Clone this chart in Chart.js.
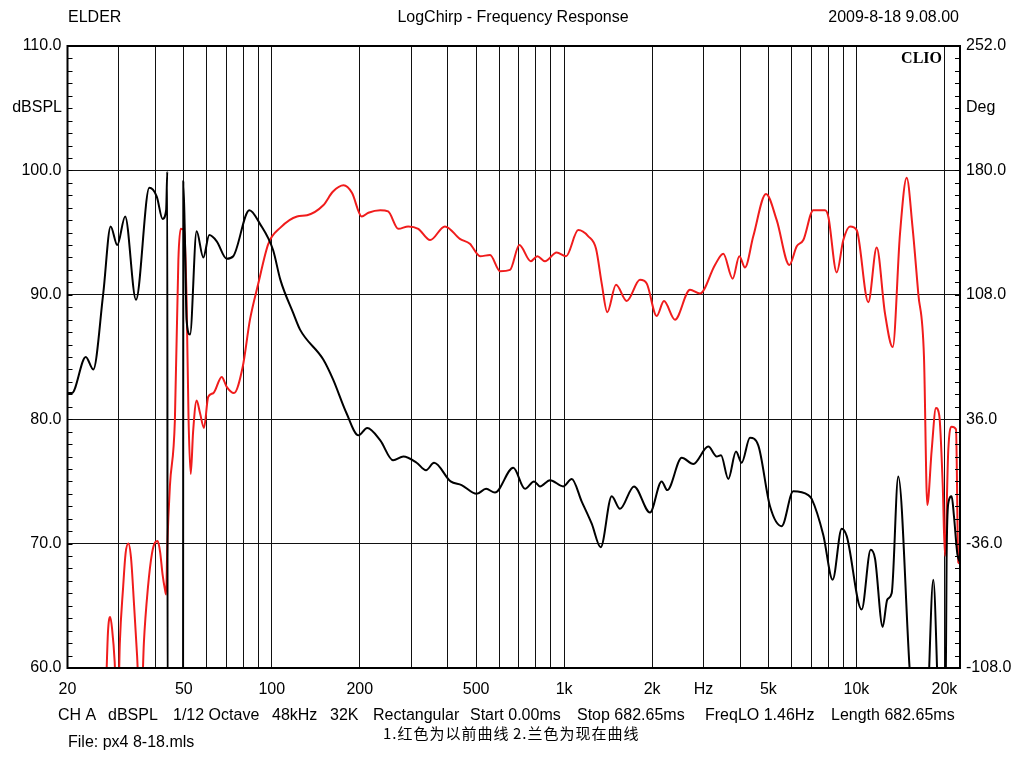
<!DOCTYPE html>
<html>
<head>
<meta charset="utf-8">
<script src="https://cdn.jsdelivr.net/npm/chart.js@4.4.1/dist/chart.umd.min.js"></script>
<style>
  html, body { margin: 0; padding: 0; background: #fff; }
</style>
</head>
<body>
<canvas id="chart" width="1013" height="760"></canvas>
<script>
// black = current curve, red = previous curve (both dBSPL, left axis)
const blackFreq = [20, 20.7, 23.1, 24.5, 26.5, 28.1, 29.6, 31.5, 34.3, 38.1, 40.4, 42.3, 43.5, 43.9, 44.0,
  49.7, 49.8, 50.5, 51.1, 52.5, 55.3, 58.3, 61.1, 64.8, 70.1, 73.8, 83.8, 91.1, 101, 107, 118.5, 124.9,
  150, 162, 180, 198, 212, 235, 260, 282, 313, 337, 359, 409, 446, 502, 541, 580, 670, 735, 789, 827,
  895, 994, 1062, 1148, 1243, 1334, 1455, 1553, 1734, 1967, 2156, 2254, 2526, 2768, 3114, 3327, 3442,
  3646, 3873, 4050, 4324, 4616, 5063, 5551, 6081, 6844, 7031, 7704, 8297, 8907, 9266, 10424, 11192,
  11578, 12300, 12754, 13204, 13906, 15252, 15864, 17298, 18324, 19322, 20157, 20349, 20608, 21178,
  21568, 22140, 22617];
const blackDb = [82.1, 82.1, 85.0, 84.0, 90.1, 95.5, 94.0, 96.3, 89.6, 98.6, 97.9, 96.1, 96.8, 99.9, 55,
  55, 99.1, 94, 88, 86.8, 95.1, 93.0, 94.8, 94.3, 92.9, 93.1, 96.8, 95.7, 93.6, 91.2, 88.5, 87.2,
  84.8, 83.2, 80.5, 78.7, 79.3, 78.3, 76.7, 77.0, 76.5, 75.9, 76.5, 75.0, 74.7, 74.0, 74.4, 74.1, 76.1, 74.4, 75.0, 74.6,
  75.1, 74.6, 75.2, 73.4, 71.6, 69.7, 73.8, 72.8, 74.6, 72.5, 75.0, 74.3, 76.9, 76.4, 77.8, 77.0, 77.1,
  75.2, 77.4, 76.5, 78.5, 77.9, 73.0, 71.4, 74.2, 73.9, 73.6, 70.7, 67.1, 71.2, 70.6, 64.7, 69.5,
  68.8, 63.3, 65.5, 66.0, 75.4, 59.5, 55, 55, 67.1, 55, 55, 68.7, 73.2, 73.8,
  72.2, 69.2, 68.5];

const redFreq = [27.0, 27.5, 28.0, 28.4, 29.0, 29.4, 29.8, 30.2, 31.0, 31.6, 32.3, 33.0, 33.8, 34.6, 35.3,
  35.8, 36.5, 37.7, 38.9, 39.9, 40.7, 41.5, 42.3, 43.1, 43.5, 43.9, 44.8, 46.6, 47.9, 48.8, 50.1, 51.1,
  51.9, 52.8, 53.8, 55.3, 56.8, 58.6, 60.6, 63.1, 67.4, 70.1, 74.2, 79.5, 84.2, 89.9, 97.3, 107, 122,
  132, 150, 162, 176, 188, 203, 214, 235, 250, 271, 293, 317, 348, 391, 440, 476, 516, 558, 604, 653,
  703, 769, 810, 860, 943, 1015, 1118, 1210, 1286, 1345, 1405, 1505, 1638, 1818, 1917, 2074, 2196,
  2395, 2696, 2917, 3282, 3504, 3774, 3975, 4158, 4438, 4906, 5338, 5896, 6250, 6583, 7122, 7808,
  8014, 8564, 9020, 9506, 10023, 10984, 11734, 12526, 13314, 14098, 14864, 15552, 16282, 17030, 17478,
  18092, 18716, 19210, 19734, 20094, 20622, 21186, 21916, 22314, 22617];
const redDb = [57, 62.8, 64.1, 63.2, 60.5, 57, 57, 62, 66.5, 69.2, 70.0, 68.8, 65, 61, 57,
  57, 62, 66.5, 69.2, 70.1, 70.2, 69.3, 67.5, 66.3, 65.9, 69.8, 74.6, 79.9, 92.8, 95.3, 95.2, 89.6,
  80, 75.6, 79, 81.5, 80.5, 79.3, 81.8, 82.1, 83.4, 82.6, 82.1, 84.2, 88.0, 90.9, 94.1, 95.4, 96.3,
  96.4, 97.2, 98.3, 98.8, 98.2, 96.3, 96.6, 96.8, 96.7, 95.3, 95.5, 95.3, 94.4, 95.5, 94.5, 94.1, 93.1, 93.2, 91.9, 92.0,
  94.0, 92.7, 93.1, 92.7, 93.4, 93.1, 95.2, 94.7, 93.7, 90.9, 88.6, 90.8, 89.5, 91.2, 90.9, 88.3, 89.5,
  88.0, 90.4, 90.1, 92.4, 93.3, 91.3, 93.1, 92.2, 94.7, 98.1, 96.0, 92.4, 93.9, 94.4, 96.8, 96.8,
  96.3, 91.8, 94.4, 95.5, 95.2, 89.4, 93.8, 88.5, 85.8, 94.9, 99.4, 95.5, 90.1, 85.0, 73.1,
  77.5, 80.9, 80.3, 74.8, 69.0, 77.5, 79.4, 79.2, 68.5, 68.4];

const xTicks = [20, 30, 40, 50, 60, 70, 80, 90, 100, 200, 300, 400, 500, 600, 700, 800, 900,
  1000, 2000, 3000, 4000, 5000, 6000, 7000, 8000, 9000, 10000, 20000];
const xLabels = {20: '20', 50: '50', 100: '100', 200: '200', 500: '500', 1000: '1k', 2000: '2k',
  3000: 'Hz', 5000: '5k', 10000: '10k', 20000: '20k'};
const leftTicks = [60, 70, 80, 90, 100, 110];
const rightTicks = [-108, -36, 36, 108, 180, 252];

const FONT = '"Liberation Sans", Arial, sans-serif';
const GRID = '#111';

function pts(fs, vs) {
  return fs.map((f, i) => ({x: f, y: vs[i]}));
}

const decor = {
  id: 'decor',
  afterDraw(chart) {
    const {ctx, chartArea: a} = chart;
    const yL = chart.scales.y, yR = chart.scales.y2;
    ctx.save();
    ctx.strokeStyle = '#000';
    ctx.lineWidth = 1;
    ctx.beginPath();
    // minor ticks, pointing inwards
    for (let v = 61; v < 110; v++) {
      const py = Math.round(yL.getPixelForValue(v)) + 0.5;
      ctx.moveTo(a.left, py); ctx.lineTo(a.left + 5, py);
    }
    for (let v = -100.8; v < 252; v += 7.2) {
      const py = Math.round(yR.getPixelForValue(v)) + 0.5;
      ctx.moveTo(a.right - 5, py); ctx.lineTo(a.right, py);
    }
    ctx.stroke();
    ctx.lineWidth = 2;
    ctx.strokeRect(a.left, a.top, a.right - a.left, a.bottom - a.top);

    ctx.fillStyle = '#000';
    ctx.textBaseline = 'middle';
    ctx.font = '16px ' + FONT;
    ctx.textAlign = 'left';
    ctx.fillText('ELDER', 68, 18);
    ctx.textAlign = 'center';
    ctx.fillText('LogChirp - Frequency Response', 513, 18);
    ctx.textAlign = 'right';
    ctx.fillText('2009-8-18 9.08.00', 959, 18);
    ctx.fillText('dBSPL', 62, 108);
    ctx.textAlign = 'left';
    ctx.fillText('Deg', 966, 108);

    const info = [['CH A', 58], ['dBSPL', 108], ['1/12 Octave', 173], ['48kHz', 272], ['32K', 330],
      ['Rectangular', 373], ['Start 0.00ms', 470], ['Stop 682.65ms', 577], ['FreqLO 1.46Hz', 705],
      ['Length 682.65ms', 831]];
    info.forEach(([t, x]) => ctx.fillText(t, x, 716));
    ctx.fillText('File: px4 8-18.mls', 68, 743);

    ctx.font = '15px "Noto Sans CJK SC", sans-serif';
    ctx.letterSpacing = '1px';
    ctx.fillText('1.红色为以前曲线', 383, 733);
    ctx.fillText('2.兰色为现在曲线', 513, 733);
    ctx.letterSpacing = '0px';

    ctx.font = 'bold 16px "Liberation Serif", serif';
    ctx.textAlign = 'right';
    ctx.fillText('CLIO', 942, 59);
    ctx.restore();
  }
};

new Chart(document.getElementById('chart'), {
  type: 'line',
  data: {
    datasets: [
      {
        label: 'now',
        data: pts(blackFreq, blackDb),
        borderColor: '#000',
        borderWidth: 2,
        pointRadius: 0,
        cubicInterpolationMode: 'monotone',
        yAxisID: 'y'
      },
      {
        label: 'before',
        data: pts(redFreq, redDb),
        borderColor: '#f01c1c',
        borderWidth: 2,
        pointRadius: 0,
        cubicInterpolationMode: 'monotone',
        yAxisID: 'y'
      }
    ]
  },
  options: {
    responsive: false,
    devicePixelRatio: 1,
    animation: false,
    layout: {padding: {top: 46, left: 0, right: 0, bottom: 0}},
    plugins: {legend: {display: false}, tooltip: {enabled: false}},
    scales: {
      x: {
        type: 'logarithmic',
        min: 20,
        max: 22617,
        afterBuildTicks: s => { s.ticks = xTicks.map(v => ({value: v})); },
        afterFit: s => { s.height = 92; },
        border: {display: false},
        grid: {color: GRID, lineWidth: 1, drawTicks: false},
        ticks: {
          autoSkip: false, maxRotation: 0, padding: 12, color: '#000',
          font: {family: FONT, size: 16},
          callback: v => xLabels[v] || ''
        }
      },
      y: {
        position: 'left',
        min: 60,
        max: 110,
        afterBuildTicks: s => { s.ticks = leftTicks.map(v => ({value: v})); },
        afterFit: s => { s.width = 67.5; },
        border: {display: false},
        grid: {color: GRID, lineWidth: 1, drawTicks: false},
        ticks: {padding: 6, color: '#000', font: {family: FONT, size: 16}, callback: v => v.toFixed(1)}
      },
      y2: {
        position: 'right',
        min: -108,
        max: 252,
        afterBuildTicks: s => { s.ticks = rightTicks.map(v => ({value: v})); },
        afterFit: s => { s.width = 53; },
        border: {display: false},
        grid: {drawOnChartArea: false, drawTicks: false},
        ticks: {padding: 6, color: '#000', font: {family: FONT, size: 16}, callback: v => v.toFixed(1)}
      }
    }
  },
  plugins: [decor]
});
</script>
</body>
</html>
